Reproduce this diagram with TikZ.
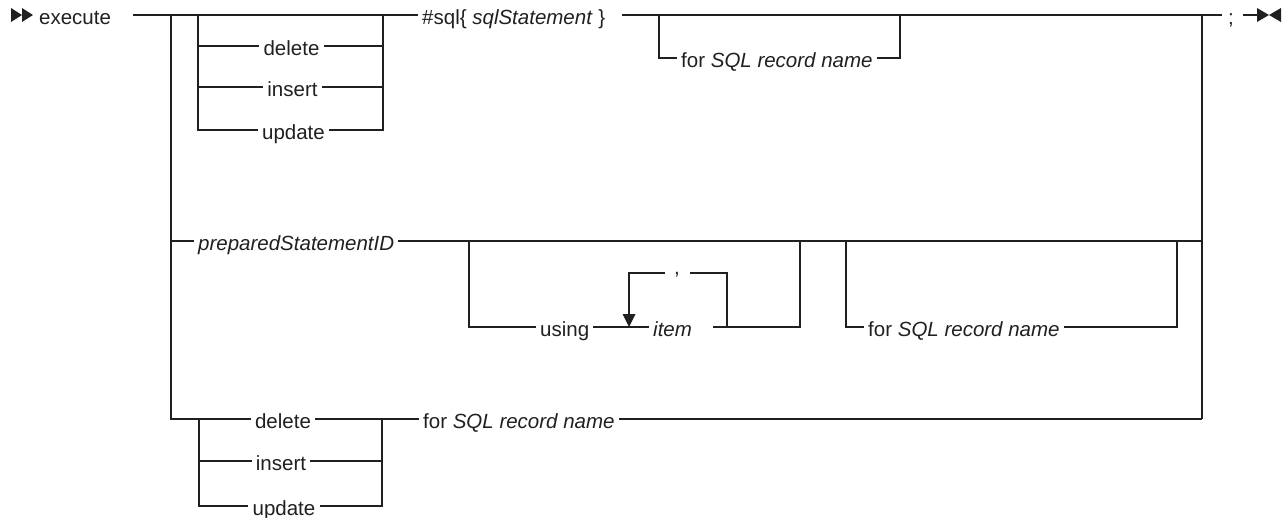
\documentclass[tikz,border=0pt]{standalone}
\usepackage{fontspec}
\setmainfont{Liberation Sans}
\usetikzlibrary{arrows.meta}
\definecolor{ink}{HTML}{231F20}
\begin{document}
\begin{tikzpicture}[x=1pt,y=-1pt,
  every node/.style={font=\fontsize{20.5}{24}\selectfont, text=ink},
  lbl/.style={inner xsep=4pt, inner ysep=0pt, text height=18pt, text depth=0pt, anchor=west},
  mid/.style={lbl, anchor=center},
  rail/.style={draw=ink, line width=1.1pt},
  tip/.style={fill=ink, draw=none}]
\useasboundingbox (0,0) rectangle (1288,517);

% ---- start and end markers of the statement ----
\fill[tip] (11,8) -- (22,15) -- (11,22) -- cycle;
\fill[tip] (22,8) -- (33,15) -- (22,22) -- cycle;
\fill[tip] (1257,8) -- (1269,15) -- (1257,22) -- cycle;
\fill[tip] (1281,8) -- (1269,15) -- (1281,22) -- cycle;

% ---- junction points ----
\coordinate (m0)   at (133,15);
\coordinate (jL)   at (171,15);
\coordinate (jL2)  at (171,241);
\coordinate (b1L)  at (198,15);
\coordinate (b1R)  at (383,15);
\coordinate (sqlR) at (622,15);
\coordinate (o1L)  at (659,15);
\coordinate (o1R)  at (900,15);
\coordinate (jR)   at (1202,15);
\coordinate (jR2)  at (1202,241);
\coordinate (jR3)  at (1202,419);
\coordinate (endL) at (1222,15);
\coordinate (tL)   at (1243,15);
\coordinate (tR)   at (1258,15);
\coordinate (uL)   at (469,241);
\coordinate (uR)   at (800,241);
\coordinate (iR)   at (713,327);
\coordinate (lpR)  at (727,327);
\coordinate (lpD)  at (629,327);
\coordinate (lpA)  at (629,314);
\coordinate (cL)   at (665,273);
\coordinate (cR)   at (690,273);
\coordinate (fL)   at (846,241);
\coordinate (fR)   at (1177,241);
\coordinate (b3L)  at (199,419);
\coordinate (b3R)  at (382,419);

% ---- labels ----
\node[lbl] (exec)   at (35,15)   {execute};
\node[mid] (del1)   at (291.5,46)  {delete};
\node[mid] (ins1)   at (292.5,87)  {insert};
\node[mid] (upd1)   at (293.5,130) {update};
\node[lbl] (sql)    at (418,15)  {\#sql\{ \textit{sqlStatement} \}};
\node[lbl] (sqlfor) at (677,58)  {for \textit{SQL record name}};
\node[lbl] (semi)   at (1224,15) {;};

\node[lbl] (psid)   at (194,241) {\textit{preparedStatementID}};
\node[lbl] (using)  at (536,327) {using};
\node[lbl] (item)   at (649,327) {\textit{item}};
\node[lbl] (comma)  at (670,265) {,};
\node[lbl] (forB)   at (864,327) {for \textit{SQL record name}};

\node[mid] (del2)   at (283,419) {delete};
\node[mid] (ins2)   at (281,461) {insert};
\node[mid] (upd2)   at (284,506) {update};
\node[lbl] (forC)   at (419,419) {for \textit{SQL record name}};

% ---- main line ----
\draw[rail] (m0) -- (sql.west);
\draw[rail] (sqlR) -- (endL);
\draw[rail] (tL) -- (tR);

% ---- first alternative: delete / insert / update ----
\draw[rail] (b1L) |- (del1.west);
\draw[rail] (b1L) |- (ins1.west);
\draw[rail] (b1L) |- (upd1.west);
\draw[rail] (del1.east) -| (b1R);
\draw[rail] (ins1.east) -| (b1R);
\draw[rail] (upd1.east) -| (b1R);

% optional record name after the statement
\draw[rail] (o1L) |- (sqlfor.west);
\draw[rail] (sqlfor.east) -| (o1R);

% ---- outer choice rails ----
\draw[rail] (jL) |- (del2.west);
\draw[rail] (jL2) -- (psid.west);
\draw[rail] (jR) -- (jR3);

% ---- second alternative: prepared statement ----
\draw[rail] (psid.east) -- (jR2);
\draw[rail] (uL) |- (using.west);
\draw[rail] (using.east) -- (item.west);
\draw[rail] (iR) -| (uR);
% repeat loop for further items, separated by commas
\draw[rail] (lpR) |- (cR);
\draw[rail] (cL) -| (lpA);
\fill[tip] ([xshift=-6.5pt]lpA) -- ([xshift=6.5pt]lpA) -- (lpD) -- cycle;
\draw[rail] (fL) |- (forB.west);
\draw[rail] (forB.east) -| (fR);

% ---- third alternative: delete / insert / update for record ----
\draw[rail] (del2.east) -- (forC.west);
\draw[rail] (b3L) |- (ins2.west);
\draw[rail] (b3L) |- (upd2.west);
\draw[rail] (ins2.east) -| (b3R);
\draw[rail] (upd2.east) -| (b3R);
\draw[rail] (forC.east) -- (jR3);
\end{tikzpicture}
\end{document}
